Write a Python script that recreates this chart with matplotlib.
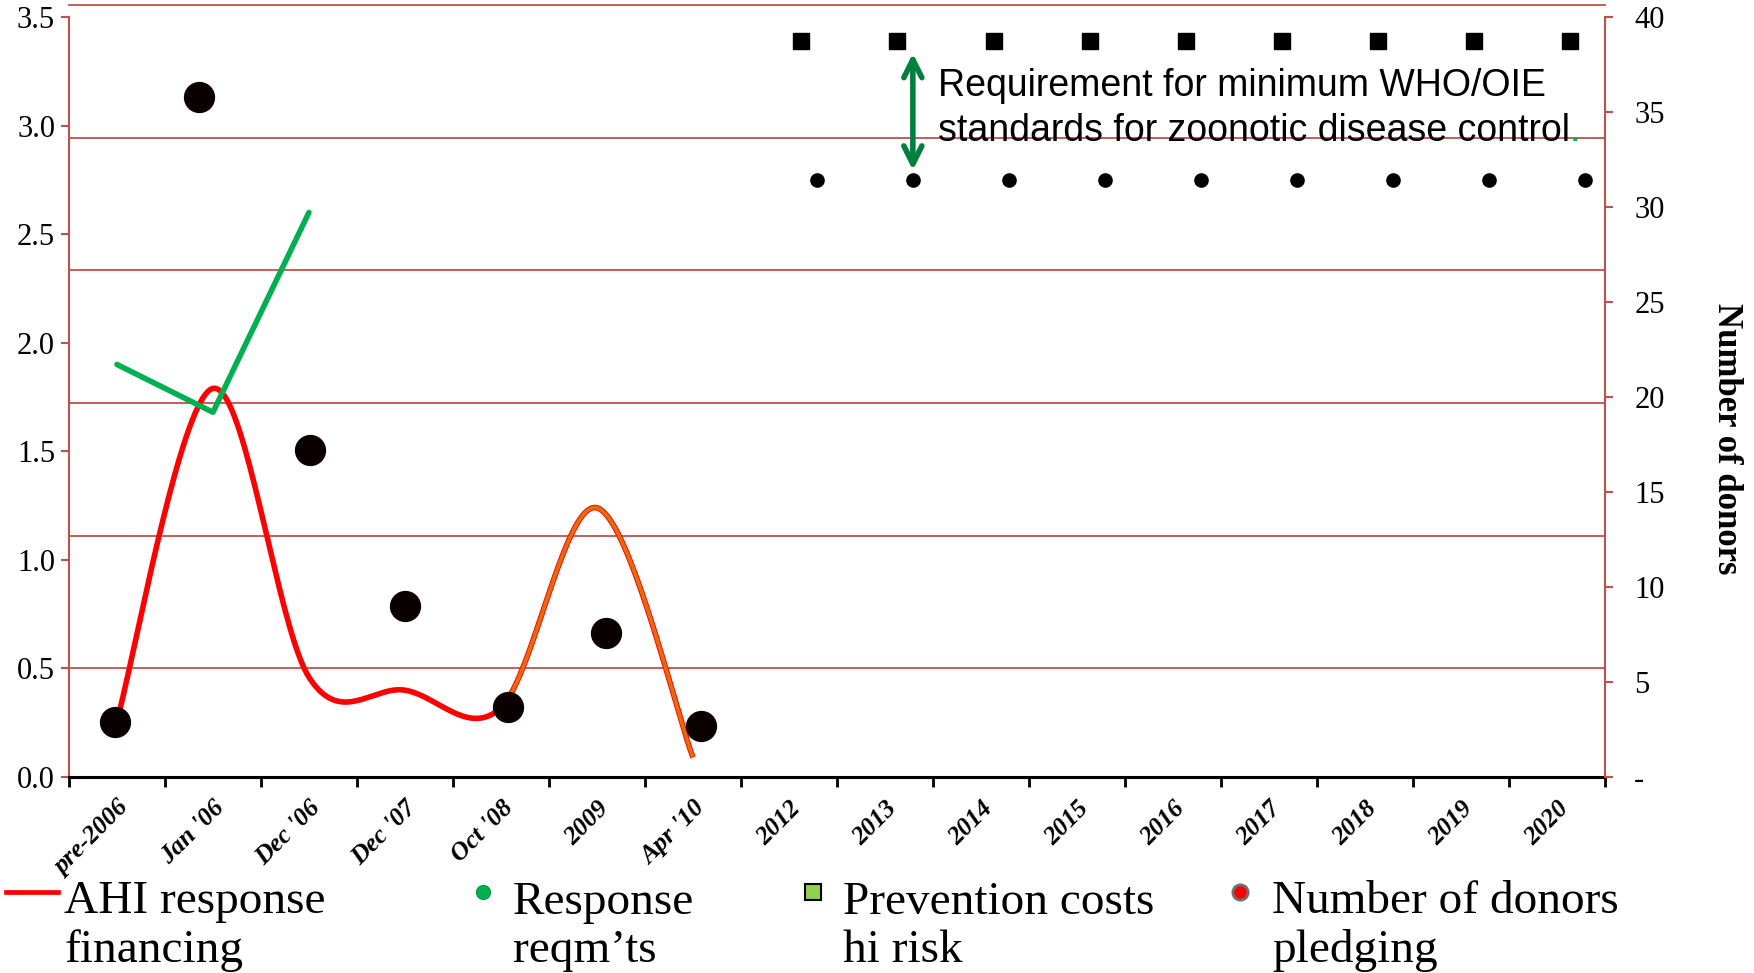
import matplotlib.pyplot as plt
import numpy as np
from matplotlib.lines import Line2D

plt.rcParams["font.family"] = ["Liberation Serif", "DejaVu Serif"]

# ---- data ----
categories = [
    "pre-2006", "Jan '06", "Dec '06", "Dec '07", "Oct '08", "2009", "Apr '10",
    "2012", "2013", "2014", "2015", "2016", "2017", "2018", "2019", "2020",
]

# AHI response financing (left axis), one value per early category
ahi_financing = [0.26, 1.79, 0.46, 0.40, 0.32, 1.24, 0.09]
# response requirements (left axis), first three categories
response_reqmts = [1.90, 1.68, 2.60]

# number of donors pledging (right axis) with their x positions
donor_x = [-0.02, 0.85, 2.01, 3.00, 4.07, 5.09, 6.08]
donors = [2.9, 35.8, 17.2, 9.0, 3.7, 7.6, 2.7]

# 2012-2020 projections (left axis)
upper_level = [3.39, 3.39, 3.39, 3.39, 3.39, 3.39, 3.39, 3.39, 3.39]
lower_level = [2.75, 2.75, 2.75, 2.75, 2.75, 2.75, 2.75, 2.75, 2.75]

left_ticks = [0.0, 0.5, 1.0, 1.5, 2.0, 2.5, 3.0, 3.5]
right_ticks = [0, 5, 10, 15, 20, 25, 30, 35, 40]
right_labels = ["-", "5", "10", "15", "20", "25", "30", "35", "40"]
grid_levels = [0.504, 1.112, 1.722, 2.333, 2.943, 3.554]

GRID_RED = "#C0504D"


def smooth(xs, ys, n=40):
    # Catmull-Rom spline through the points (Excel style smoothed line)
    p = np.column_stack([xs, ys]).astype(float)
    p = np.vstack([p[0], p, p[-1]])
    t = np.linspace(0, 1, n)[:, None]
    out = []
    for i in range(1, len(p) - 2):
        p0, p1, p2, p3 = p[i - 1], p[i], p[i + 1], p[i + 2]
        seg = 0.5 * (2 * p1 + (-p0 + p2) * t
                     + (2 * p0 - 5 * p1 + 4 * p2 - p3) * t ** 2
                     + (-p0 + 3 * p1 - 3 * p2 + p3) * t ** 3)
        out.append(seg if i == 1 else seg[1:])
    return np.vstack(out)


fig = plt.figure(figsize=(17.54, 9.73), dpi=100)
ax = fig.add_axes([0.0393, 0.2014, 0.8758, 0.7811])
ax2 = ax.twinx()

ax.set_xlim(-0.5, len(categories) - 0.5)
ax.set_ylim(0, 3.5)
ax2.set_ylim(0, 40)

for lvl in grid_levels:
    ax.axhline(lvl, color=GRID_RED, lw=1.3, clip_on=False, zorder=0)

# red smoothed financing line, orange overlay for the later part
curve = smooth(np.arange(len(ahi_financing)), ahi_financing)
ax.plot(curve[:, 0], curve[:, 1], color="#FF0000", lw=4, solid_capstyle="butt", zorder=3)
late = curve[:, 0] >= 4
ax.plot(curve[late, 0], curve[late, 1], color="#E46C0A", lw=2.7, solid_capstyle="butt", zorder=4)

# green requirement line
ax.plot(np.arange(len(response_reqmts)), response_reqmts, color="#00B050", lw=4,
        solid_capstyle="round", zorder=3)

# projection markers
future_idx = np.arange(7, len(categories))
ax.plot(future_idx + 0.13, upper_level, ls="none", marker="s", ms=11, color="black", zorder=5)
ax.plot(future_idx + 0.29, lower_level, ls="none", marker="o", ms=9.5, color="black", zorder=5)

# donors on the right axis
ax2.plot(donor_x, donors, ls="none", marker="o", ms=21.5, color="#0A0000", zorder=5)

# arrow + annotation
ax.annotate("", xy=(future_idx[1] + 0.29, upper_level[1]),
            xytext=(future_idx[1] + 0.29, lower_level[1]),
            arrowprops=dict(arrowstyle="<->,head_length=1.3,head_width=0.65",
                            color="#00803C", lw=4, shrinkA=7, shrinkB=9))
txt = ax.text(8.55, 2.93, "Requirement for minimum WHO/OIE\nstandards for zoonotic disease control",
              fontsize=27, family="Liberation Sans", va="baseline", ha="left",
              linespacing=1.3, zorder=6)
ax.annotate(".", xy=(1, 0), xycoords=txt, fontsize=27, family="Liberation Sans",
            color="#00B050", va="bottom", ha="left")

# axes styling
for a in (ax, ax2):
    a.spines["top"].set_visible(False)
ax.spines["right"].set_visible(False)
ax2.spines["left"].set_visible(False)
ax2.spines["bottom"].set_visible(False)
ax.spines["left"].set_color(GRID_RED)
ax.spines["left"].set_linewidth(1.5)
ax2.spines["right"].set_color(GRID_RED)
ax2.spines["right"].set_linewidth(1.5)
ax.spines["bottom"].set_color("black")
ax.spines["bottom"].set_linewidth(2.2)

ax.set_yticks(left_ticks)
ax.set_yticklabels([f"{v:.1f}" for v in left_ticks])
ax.tick_params(axis="y", colors=GRID_RED, labelcolor="black", length=6, width=1.5,
               labelsize=22, pad=4)
ax2.set_yticks(right_ticks)
ax2.set_yticklabels(right_labels)
ax2.tick_params(axis="y", colors=GRID_RED, labelcolor="black", length=6, width=1.5,
                labelsize=22, pad=15)
ax2.set_ylabel("Number of donors", fontsize=25, fontweight="bold", rotation=270,
               labelpad=56)
ax2.yaxis.label.set_y(0.445)

ax.set_xticks(np.arange(-0.5, len(categories), 1))
ax.set_xticklabels([])
ax.tick_params(axis="x", which="major", length=7, width=2, color="black")
ax.set_xticks(np.arange(len(categories)), minor=True)
ax.set_xticklabels(categories, minor=True, rotation=45, ha="right",
                   rotation_mode="anchor", fontsize=18.5, fontstyle="italic",
                   fontweight="bold")
ax.tick_params(axis="x", which="minor", length=0, pad=14)

# legend drawn by hand along the bottom
W, H = 1754.0, 973.0
handle_y = 1 - 891.5 / H
text_y = 1 - 962 / H  # baseline of the second label line
fig.add_artist(Line2D([6 / W, 58 / W], [handle_y, handle_y], color="#FF0000", lw=3.4,
                      transform=fig.transFigure))
fig.add_artist(Line2D([483 / W], [handle_y], marker="o", ms=10, color="#00B050",
                      mec="#00A04A", transform=fig.transFigure))
fig.add_artist(Line2D([813 / W], [handle_y], marker="s", ms=11, mfc="#92D050",
                      mec="black", mew=1.5, transform=fig.transFigure))
fig.add_artist(Line2D([1240 / W], [handle_y], marker="o", ms=11, mfc="#FF0000",
                      mec="#707070", mew=2, transform=fig.transFigure))
legend_items = [
    (64, "AHI response\nfinancing"),
    (513, "Response\nreqm\u2019ts"),
    (843, "Prevention costs\nhi risk"),
    (1272, "Number of donors\npledging"),
]
for x, label in legend_items:
    fig.text(x / W, text_y, label, fontsize=34, va="baseline", ha="left", linespacing=1.18)

fig.savefig("out.png", dpi=100)
